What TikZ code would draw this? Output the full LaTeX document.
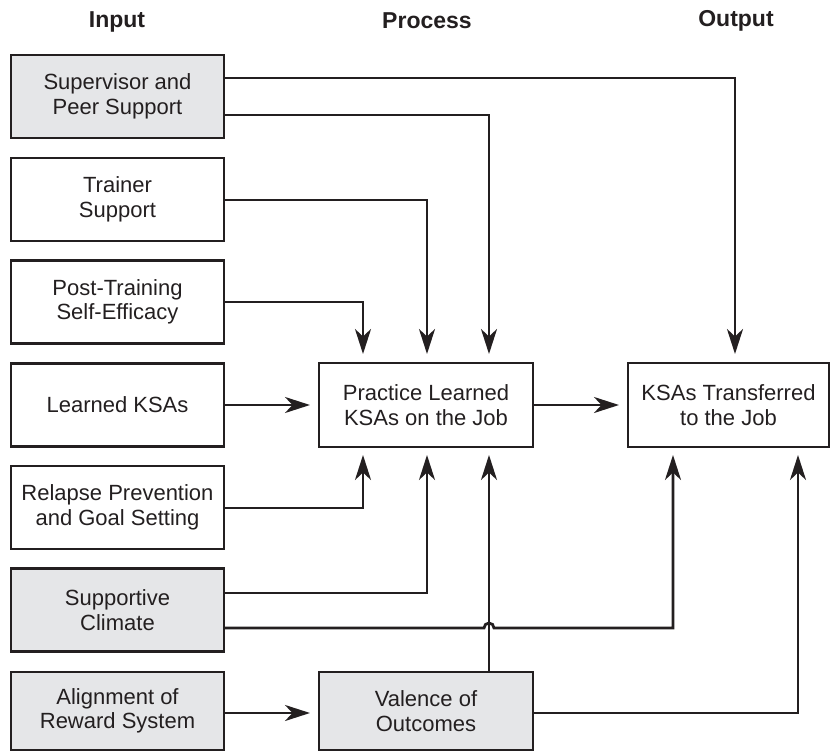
\documentclass[tikz,border=0pt]{standalone}
\usepackage{fontspec}
\setmainfont{Liberation Sans}
\usetikzlibrary{arrows.meta}
\definecolor{ink}{HTML}{231F20}
\definecolor{boxgray}{HTML}{E5E6E8}
\begin{document}
\begin{tikzpicture}[x=1pt,y=-1pt,
  every node/.style={outer sep=0pt, text=ink},
  box/.style={draw=ink, line width=2.7pt, minimum width=213pt, minimum height=83pt,
    align=center, inner sep=0pt, font=\fontsize{22}{24.5}\selectfont},
  shaded/.style={box, fill=boxgray},
  head/.style={font=\bfseries\fontsize{23}{26}\selectfont},
  link/.style={draw=ink, line width=2.8pt, -{Stealth[length=25pt,width=16pt,inset=7.5pt]},
    shorten >=9pt},
  linkup/.style={link, shorten >=8pt}]
\useasboundingbox (0,0) rectangle (831,752);

% column headings
\node[head] (hin)  at (117,22) {Input};
\node[head] (hpr)  at (427,21) {Process};
\node[head] (hout) at (736,21) {Output};

% input factors
\node[shaded] (sup) at (117.5,96.5) {Supervisor and\\Peer Support};
\node[box]    (trn) at (117.5,199.5) {Trainer\\Support};
\node[box]    (pte) at (117.5,302) {Post-Training\\Self-Efficacy};
\node[box]    (lks) at (117.5,405) {Learned KSAs};
\node[box]    (rpg) at (117.5,507.5) {Relapse Prevention\\and Goal Setting};
\node[shaded] (scl) at (117.5,610) {Supportive\\Climate};
\node[shaded, minimum height=78pt] (ars) at (117.5,711) {Alignment of\\Reward System};

% process and output
\node[box, minimum width=214pt, minimum height=84pt] (prc) at (426,405) {Practice Learned\\KSAs on the Job};
\node[shaded, minimum width=214pt, minimum height=78pt] (val) at (426,711) {Valence of\\Outcomes};
\node[box, minimum width=201pt, minimum height=84pt] (ktj) at (728.5,405) {KSAs Transferred\\to the Job};

% arrows from above
\draw[link] (sup.east |- 0,78) -| (735,0 |- ktj.north);
\draw[link] (sup.east |- 0,115) -| (489,0 |- prc.north);
\draw[link] (trn.east |- 0,200) -| (427,0 |- prc.north);
\draw[link] (pte.east |- 0,302) -| (363,0 |- prc.north);

% main flow
\draw[link] (lks.east) -- (prc.west);
\draw[link] (prc.east) -- (ktj.west);

% arrows from below
\draw[linkup] (rpg.east |- 0,508) -| (363,0 |- prc.south);
\draw[linkup] (scl.east |- 0,593) -| (427,0 |- prc.south);
\draw[linkup] (scl.east |- 0,628) -- (484,628)
  arc[start angle=180, end angle=0, radius=5pt] -- (673,628) -- (673,0 |- ktj.south);
\draw[linkup] (489,0 |- val.north) -- (489,0 |- prc.south);
\draw[link] (ars.east |- 0,713) -- (val.west |- 0,713);
\draw[linkup] (val.east |- 0,713) -| (798,0 |- ktj.south);
\end{tikzpicture}
\end{document}
